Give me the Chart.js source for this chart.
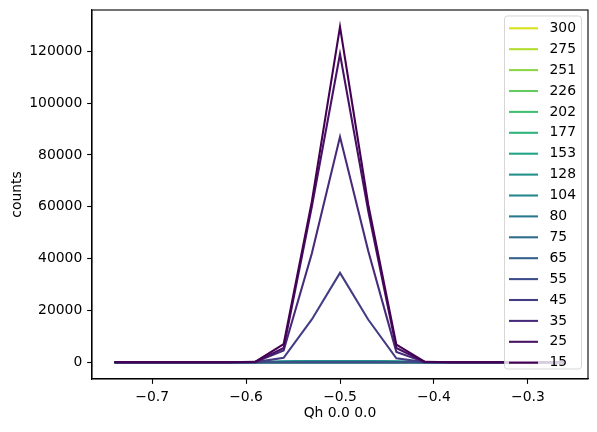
<!DOCTYPE html>
<html>
<head>
<meta charset="utf-8">
<script src="https://cdn.jsdelivr.net/npm/chart.js@4.4.1/dist/chart.umd.min.js"></script>
<style>
  html, body { margin: 0; padding: 0; background: #fff; }
  canvas { display: block; }
</style>
</head>
<body>
<canvas id="chart" width="597" height="432"></canvas>
<script>
// x positions (Qh)
const qh = [-0.74, -0.71, -0.68, -0.65, -0.62, -0.59, -0.56, -0.53, -0.50, -0.47, -0.44, -0.41, -0.38, -0.35, -0.32, -0.29, -0.26];

// temperatures, in legend order
const temps = ['300', '275', '251', '226', '202', '177', '153', '128', '104', '80', '75', '65', '55', '45', '35', '25', '15'];
const colors = ['#d8e219', '#b1dd2e', '#8bd546', '#63cb5f', '#42be71', '#2eb37c', '#20a386', '#21918c', '#24878e',
                '#297a8e', '#2f6c8e', '#355f8d', '#3d4d8a', '#433d84', '#472a7a', '#471164', '#440154'];

// counts per temperature
const c300 = [0, 0, 0, 0, 0, 0, 0, 0, 0, 0, 0, 0, 0, 0, 0, 0, 0];
const c275 = [0, 0, 0, 0, 0, 0, 0, 0, 0, 0, 0, 0, 0, 0, 0, 0, 0];
const c251 = [0, 0, 0, 0, 0, 0, 0, 0, 0, 0, 0, 0, 0, 0, 0, 0, 0];
const c226 = [0, 0, 0, 0, 0, 0, 0, 0, 0, 0, 0, 0, 0, 0, 0, 0, 0];
const c202 = [0, 0, 0, 0, 0, 0, 0, 0, 0, 0, 0, 0, 0, 0, 0, 0, 0];
const c177 = [0, 0, 0, 0, 0, 0, 300, 500, 500, 500, 300, 0, 0, 0, 0, 0, 0];
const c153 = [0, 0, 0, 0, 0, 0, 300, 500, 500, 500, 300, 0, 0, 0, 0, 0, 0];
const c128 = [0, 0, 0, 0, 0, 0, 300, 500, 500, 500, 300, 0, 0, 0, 0, 0, 0];
const c104 = [0, 0, 0, 0, 0, 0, 0, 0, 0, 0, 0, 0, 0, 0, 0, 0, 0];
const c80 = [0, 0, 0, 0, 0, 0, 0, 0, 0, 0, 0, 0, 0, 0, 0, 0, 0];
const c75 = [0, 0, 0, 0, 0, 0, 0, 0, 0, 0, 0, 0, 0, 0, 0, 0, 0];
const c65 = [0, 0, 0, 0, 0, 0, 0, 0, 0, 0, 0, 0, 0, 0, 0, 0, 0];
const c55 = [0, 0, 0, 0, 0, 0, 0, 0, 0, 0, 0, 0, 0, 0, 0, 0, 0];
const c45 = [0, 0, 0, 0, 0, 50, 1700, 16500, 34500, 16500, 1500, 50, 0, 0, 0, 0, 0];
const c35 = [0, 0, 0, 0, 0, 100, 4500, 42000, 87000, 43000, 4000, 100, 0, 0, 0, 0, 0];
const c25 = [0, 0, 0, 0, 0, 150, 5500, 60000, 119000, 58500, 5500, 150, 0, 0, 0, 0, 0];
const c15 = [0, 0, 0, 0, 0, 200, 7000, 62000, 129500, 61000, 6800, 200, 0, 0, 0, 0, 0];
const counts = [c300, c275, c251, c226, c202, c177, c153, c128, c104, c80, c75, c65, c55, c45, c35, c25, c15];

const xTicks = [-0.7, -0.6, -0.5, -0.4, -0.3];
const yTicks = [0, 20000, 40000, 60000, 80000, 100000, 120000];

const FONT = 'DejaVu Sans';
const FS = 13.9;
const LW = 2.08;   // 1.5pt at 100 dpi
const SPINE = 1.1; // 0.8pt
const TICK = 4.86; // 3.5pt

const datasets = temps.map((t, i) => ({
  label: t,
  data: qh.map((x, k) => ({ x: x, y: counts[i][k] })),
  borderColor: colors[i],
  backgroundColor: colors[i],
  borderWidth: LW,
  pointRadius: 0,
  tension: 0,
  fill: false,
  order: temps.length - i // last one (15) drawn on top, like matplotlib
}));

// frame around the plot area
const framePlugin = {
  id: 'frame',
  afterDraw(chart) {
    const { ctx, chartArea: a } = chart;
    ctx.save();
    ctx.strokeStyle = '#000';
    ctx.lineWidth = SPINE;
    ctx.strokeRect(a.left, a.top, a.right - a.left, a.bottom - a.top);
    ctx.restore();
  }
};

// matplotlib-like legend inside the axes, upper right
const legendPlugin = {
  id: 'mplLegend',
  afterDraw(chart) {
    const ctx = chart.ctx;
    const a = chart.chartArea;
    const rowH = 20.9;
    const boxW = 77;
    const boxH = 353;
    const bx = a.right - 6.5 - boxW;
    const by = a.top + 6;
    ctx.save();
    ctx.beginPath();
    ctx.roundRect(bx, by, boxW, boxH, 3);
    ctx.fillStyle = 'rgba(255,255,255,0.8)';
    ctx.fill();
    ctx.strokeStyle = 'rgba(204,204,204,0.8)';
    ctx.lineWidth = 1;
    ctx.stroke();
    ctx.font = FS + 'px "' + FONT + '"';
    ctx.textBaseline = 'middle';
    ctx.textAlign = 'left';
    chart.data.datasets.forEach((ds, i) => {
      const y = by + 12.3 + i * rowH;
      ctx.strokeStyle = ds.borderColor;
      ctx.lineWidth = LW;
      ctx.beginPath();
      ctx.moveTo(bx + 4.5, y);
      ctx.lineTo(bx + 33.5, y);
      ctx.stroke();
      ctx.fillStyle = '#000';
      ctx.fillText(ds.label, bx + 45, y);
    });
    ctx.restore();
  }
};

const fmtMinus = v => (v < 0 ? '\u2212' : '') + Math.abs(v).toFixed(1);

new Chart(document.getElementById('chart'), {
  type: 'line',
  data: { datasets: datasets },
  options: {
    responsive: false,
    animation: false,
    layout: { padding: { left: 0, top: 10, right: 9, bottom: 0 } },
    plugins: {
      legend: { display: false },
      tooltip: { enabled: false }
    },
    scales: {
      x: {
        type: 'linear',
        min: -0.764,
        max: -0.236,
        afterBuildTicks: s => { s.ticks = xTicks.map(v => ({ value: v })); },
        afterFit: s => { s.height = 53; s.paddingLeft = 0; s.paddingRight = 0; },
        grid: { drawOnChartArea: false, drawTicks: true, tickLength: TICK, tickColor: '#000', tickWidth: SPINE },
        border: { display: true, color: '#000', width: SPINE },
        ticks: {
          color: '#000',
          padding: 4.9,
          maxRotation: 0,
          font: { family: FONT, size: FS },
          callback: v => fmtMinus(v)
        },
        title: {
          display: true,
          text: 'Qh 0.0 0.0',
          color: '#000',
          font: { family: FONT, size: FS },
          padding: { top: 0, bottom: 10 }
        }
      },
      y: {
        type: 'linear',
        min: -6475,
        max: 135975,
        afterBuildTicks: s => { s.ticks = yTicks.map(v => ({ value: v })); },
        afterFit: s => { s.width = 92; s.paddingTop = 0; s.paddingBottom = 0; },
        grid: { drawOnChartArea: false, drawTicks: true, tickLength: TICK, tickColor: '#000', tickWidth: SPINE },
        border: { display: true, color: '#000', width: SPINE },
        ticks: {
          color: '#000',
          padding: 4.9,
          font: { family: FONT, size: FS },
          callback: v => String(v)
        },
        title: {
          display: true,
          text: 'counts',
          color: '#000',
          font: { family: FONT, size: FS },
          padding: { top: 9, bottom: 0 }
        }
      }
    }
  },
  plugins: [framePlugin, legendPlugin]
});
</script>
</body>
</html>
